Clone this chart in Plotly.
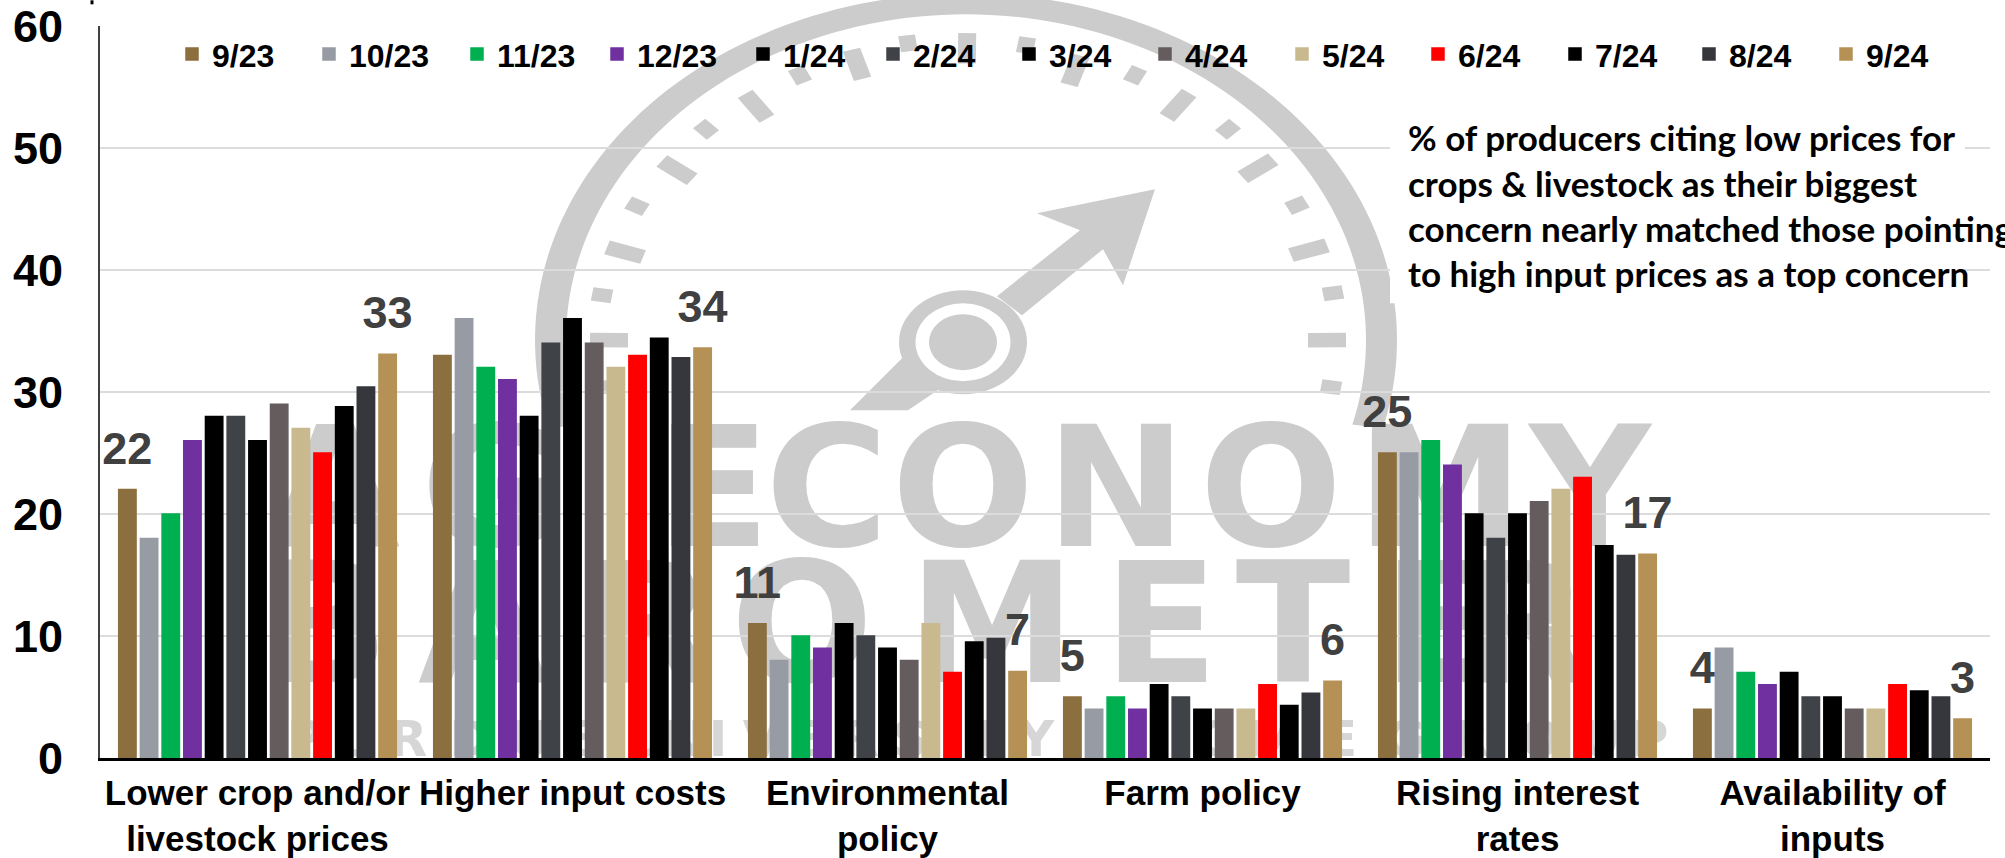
import math
import plotly.graph_objects as go

categories = ["Lower crop and/or<br>livestock prices", "Higher input costs", "Environmental<br>policy",
              "Farm policy", "Rising interest<br>rates", "Availability of<br>inputs"]
positions = [0, 1, 2, 3, 4, 5]
months = ["9/23", "10/23", "11/23", "12/23", "1/24", "2/24", "3/24", "4/24", "5/24", "6/24", "7/24", "8/24", "9/24"]
colors = ["#8C6F3E", "#979BA3", "#00B050", "#7030A0", "#000000", "#3F4247", "#000000", "#655C5D",
          "#C8B98E", "#FF0000", "#000000", "#36373C", "#B59156"]

s_0923 = [22, 33, 11, 5, 25, 4]
s_1023 = [18, 36, 8, 4, 25, 9]
s_1123 = [20, 32, 10, 5, 26, 7]
s_1223 = [26, 31, 9, 4, 24, 6]
s_0124 = [28, 28, 11, 6, 20, 7]
s_0224 = [28, 34, 10, 5, 18, 5]
s_0324 = [26, 36, 9, 4, 20, 5]
s_0424 = [29, 34, 8, 4, 21, 4]
s_0524 = [27, 32, 11, 4, 22, 4]
s_0624 = [25, 33, 7, 6, 23, 6]
s_0724 = [28.8, 34.4, 9.5, 4.3, 17.4, 5.5]
s_0824 = [30.4, 32.8, 9.8, 5.3, 16.6, 5]
s_0924 = [33.1, 33.6, 7.1, 6.3, 16.7, 3.2]
series = [s_0923, s_1023, s_1123, s_1223, s_0124, s_0224, s_0324, s_0424, s_0524, s_0624, s_0724, s_0824, s_0924]

first_labels = ["22", "", "11", "5", "25", "4"]
last_labels = ["33", "34", "7", "6", "17", "3"]

legend_left = [186, 323, 471, 611, 757, 887, 1023, 1159, 1296, 1432, 1569, 1703, 1840]

callout = ["% of producers citing low prices for", "crops & livestock as their biggest",
           "concern nearly matched those pointing", "to high input prices as a top concern"]
callout_y = [137, 183, 228, 273]

# plot area in page pixels
L, R, T, B = 100, 1990, 25.7, 758
W, H = 2005, 858
GRAY = "#cccccc"
BARGAP = 0.105


def px(x):
    return (x - L) / (R - L)


def py(y):
    return (B - y) / (B - T)


def poly(points, color=GRAY, layer="below"):
    d = "M" + " L".join(f"{px(a):.5f},{py(b):.5f}" for a, b in points) + " Z"
    return dict(type="path", xref="paper", yref="paper", path=d, fillcolor=color,
                line=dict(width=0), layer=layer)


def ellipse(cx, cy, rx, ry, color):
    return dict(type="circle", xref="paper", yref="paper", x0=px(cx - rx), x1=px(cx + rx),
                y0=py(cy + ry), y1=py(cy - ry), fillcolor=color, line=dict(width=0), layer="below")


shapes = []
# gauge rim
cx, cy = 966, 340
start, end = math.radians(195), math.radians(-15)
n = 120
outer = [(cx + 431 * math.cos(start + (end - start) * i / n), cy - 347 * math.sin(start + (end - start) * i / n)) for i in range(n + 1)]
inner = [(cx + 400 * math.cos(start + (end - start) * i / n), cy - 326 * math.sin(start + (end - start) * i / n)) for i in range(n + 1)]
rim = [(a, min(b, 428)) for a, b in outer + inner[::-1]]
shapes.append(poly(rim))

# gauge dashes
big = [(625, 252), (677, 170), (756, 106), (857, 64), (967, 48), (1075, 70), (1178, 105), (1258, 168), (1309, 250), (1327, 340), (609, 340)]
small = [(605, 387), (602, 295), (637, 206), (706, 129), (800, 75), (908, 43), (1026, 45), (1135, 75), (1228, 129), (1297, 205), (1333, 293), (1331, 387)]
for items, ln, wd in ((big, 38, 18), (small, 20, 17)):
    for x, y in items:
        ang = math.atan2((y - 342) * 1.25, x - 963)
        ux, uy = math.cos(ang), math.sin(ang) / 1.25
        vx, vy = -math.sin(ang), math.cos(ang) / 1.25
        shapes.append(poly([(x + sa * ux * ln / 2 + sb * vx * wd / 2, y + sa * uy * ln / 2 + sb * vy * wd / 2)
                            for sa, sb in ((1, 1), (1, -1), (-1, -1), (-1, 1))]))

# needle
shapes.append(poly([(850, 410), (908, 410), (945, 385), (905, 355)]))
shapes.append(poly([(997, 296), (1080, 230), (1037, 213), (1155, 189), (1123, 285), (1103, 249), (1022, 315)]))
shapes.append(ellipse(963, 342, 64, 52, GRAY))
shapes.append(ellipse(963, 342, 47.5, 39, "white"))
shapes.append(ellipse(963, 342, 34, 28, GRAY))

# watermark letters sit under the gridlines and bars
wm_top = [("A", 335), ("G", 490), ("E", 713), ("C", 827), ("O", 963), ("N", 1116), ("O", 1271), ("M", 1440), ("Y", 1590)]
wm_mid = [("B", 325), ("A", 483), ("R", 650), ("O", 802), ("M", 992), ("E", 1161), ("T", 1293), ("E", 1440), ("R", 1525)]
wm_low = [("P", 305), ("U", 357), ("R", 408), ("D", 470), ("U", 530), ("E", 585), ("U", 645), ("N", 685), ("I", 718),
          ("V", 762), ("E", 810), ("R", 860), ("S", 910), ("I", 950), ("T", 985), ("Y", 1036),
          ("C", 1215), ("M", 1275), ("E", 1340), ("G", 1405), ("R", 1470), ("O", 1540), ("U", 1600), ("P", 1650)]
for letters, yc, size, col in ((wm_top, 476, 168, GRAY), (wm_mid, 612, 168, GRAY), (wm_low, 735, 50, "#d6d6d6")):
    for ch, xc in letters:
        shapes.append(dict(type="rect", xref="paper", yref="paper", x0=px(xc - 50), x1=px(xc + 50),
                           y0=py(yc + 50), y1=py(yc - 50), line=dict(width=0), fillcolor="rgba(0,0,0,0)", layer="below",
                           label=dict(text=ch, textposition="middle center",
                                      font=dict(family="DejaVu Sans", size=size, color=col, weight="bold"))))

# white panel behind the callout
shapes.append(dict(type="rect", xref="paper", yref="paper", x0=px(1390), x1=px(1965), y0=py(303), y1=py(145),
                   fillcolor="white", line=dict(width=0), layer="above"))
# small stray tick above the axis
shapes.append(dict(type="rect", xref="paper", yref="paper", x0=px(90.5), x1=px(93.5), y0=py(4), y1=py(0),
                   fillcolor="black", line=dict(width=0), layer="above"))

annotations = []
for line, yc in zip(callout, callout_y):
    annotations.append(dict(xref="paper", yref="paper", x=px(1408), y=py(yc), text=line, showarrow=False,
                            xanchor="left", yanchor="middle", xshift=-2,
                            font=dict(family="Lato", size=35, color="black", weight="bold")))

fig = go.Figure()
legends = {}
for k, (m, c, vals) in enumerate(zip(months, colors, series)):
    key = "legend" if k == 0 else f"legend{k + 1}"
    fig.add_bar(x=positions, y=vals, name=m, marker=dict(color=c, line=dict(color=c, width=1.5)), legend=key)
    legends[key] = dict(x=px(legend_left[k] - 14), xanchor="left", y=py(54), yanchor="middle", itemwidth=30,
                        font=dict(size=32, weight="bold", family="Liberation Sans"),
                        bgcolor="rgba(0,0,0,0)", itemclick=False, itemdoubleclick=False)

# value labels sit over the first and last bar of each group
pitch = (1 - BARGAP) / len(series)
for labels, slot, vals in ((first_labels, 0, s_0923), (last_labels, len(series) - 1, s_0924)):
    fig.add_scatter(x=[p + (slot - (len(series) - 1) / 2) * pitch for p in positions], y=vals, text=labels,
                    mode="markers+text", textposition="top center", showlegend=False, cliponaxis=False,
                    marker=dict(size=22, opacity=0), hoverinfo="skip",
                    textfont=dict(family="Liberation Sans", size=45, color="#404040", weight="bold"))

fig.update_layout(
    width=W, height=H, margin=dict(l=L, r=W - R, t=T, b=H - B, pad=0, autoexpand=False), autosize=False,
    paper_bgcolor="white", plot_bgcolor="rgba(0,0,0,0)",
    barmode="group", bargap=BARGAP, bargroupgap=0.2,
    font=dict(family="Liberation Sans", color="black"),
    shapes=shapes, annotations=annotations, showlegend=True, **legends,
)
fig.update_xaxes(range=[-0.5, 5.5], tickvals=positions, ticktext=categories, automargin=False,
                 tickfont=dict(size=35, weight="bold", family="Liberation Sans"), showgrid=False, zeroline=False,
                 showline=True, linecolor="black", linewidth=3, ticks="", ticklabelstandoff=2, tickangle=0)
fig.update_yaxes(range=[0, 60], tickvals=[0, 10, 20, 30, 40, 50, 60], showgrid=True, gridcolor="#dcdcdc", gridwidth=2,
                 zeroline=False, showline=True, linecolor="#404040", linewidth=2, ticks="", automargin=False,
                 tickfont=dict(size=45, weight="bold", family="Liberation Sans"), ticklabelstandoff=26)

fig.write_html("out.html", config=dict(displayModeBar=False),
               post_script="document.body.style.margin='0';document.documentElement.style.overflow='hidden';")
